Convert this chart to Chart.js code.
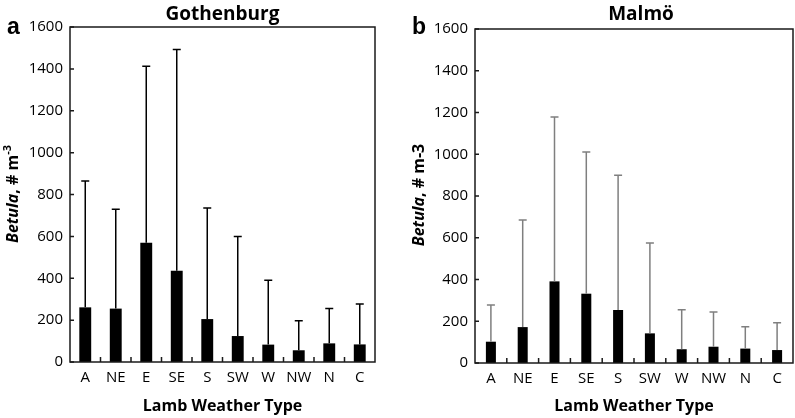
<!DOCTYPE html>
<html>
<head>
<meta charset="utf-8">
<script src="https://cdn.jsdelivr.net/npm/chart.js@4"></script>
<style>
  body { margin: 0; background: #fff; }
  #wrap { position: relative; width: 795px; height: 418px; }
  canvas { position: absolute; top: 0; }
</style>
</head>
<body>
<div id="wrap">
  <canvas id="gbg" width="395" height="418" style="left:0"></canvas>
  <canvas id="mal" width="400" height="418" style="left:395px"></canvas>
</div>
<script>
const categories = ['A', 'NE', 'E', 'SE', 'S', 'SW', 'W', 'NW', 'N', 'C'];
const gothenburgMean = [261, 255, 570, 436, 205, 124, 83, 56, 89, 84];
const gothenburgUpper = [865, 730, 1413, 1493, 735, 600, 390, 197, 255, 277];
const malmoMean = [102, 172, 391, 332, 254, 142, 66, 78, 69, 62];
const malmoUpper = [278, 685, 1178, 1011, 900, 575, 255, 244, 174, 193];
const yTicks = [0, 200, 400, 600, 800, 1000, 1200, 1400, 1600];

const FONT = '"Open Sans", sans-serif';

// frame, inward ticks, error bars and the panel texts
const panelPlugin = {
  id: 'panel',
  afterDatasetsDraw(chart, args, o) {
    const ctx = chart.ctx;
    const a = chart.chartArea;
    const x = chart.scales.x, y = chart.scales.y;

    // error bars (upper only)
    const meta = chart.getDatasetMeta(0);
    ctx.save();
    ctx.strokeStyle = o.errColor;
    ctx.lineWidth = 1.5;
    meta.data.forEach((bar, i) => {
      const top = y.getPixelForValue(o.upper[i]);
      ctx.beginPath();
      ctx.moveTo(bar.x, bar.y);
      ctx.lineTo(bar.x, top);
      ctx.moveTo(bar.x - 4, top);
      ctx.lineTo(bar.x + 4, top);
      ctx.stroke();
    });
    ctx.restore();

    // box and ticks
    ctx.save();
    ctx.strokeStyle = '#1a1a1a';
    ctx.lineWidth = 1.5;
    ctx.strokeRect(a.left, a.top, a.right - a.left, a.bottom - a.top);
    ctx.beginPath();
    yTicks.forEach(v => {
      const py = y.getPixelForValue(v);
      ctx.moveTo(a.left, py);
      ctx.lineTo(a.left + 4, py);
    });
    for (let i = 0; i < categories.length - 1; i++) {
      const px = (x.getPixelForValue(i) + x.getPixelForValue(i + 1)) / 2;
      ctx.moveTo(px, a.bottom);
      ctx.lineTo(px, a.bottom - 5);
    }
    ctx.stroke();
    ctx.restore();

    // texts
    const cx = (a.left + a.right) / 2;
    ctx.save();
    ctx.fillStyle = '#000';
    ctx.textAlign = 'center';
    ctx.textBaseline = 'alphabetic';
    ctx.font = 'bold 19px ' + FONT;
    ctx.fillText(o.title, cx + o.titleShift, 20);
    ctx.font = 'bold 16px ' + FONT;
    ctx.fillText('Lamb Weather Type', cx, 411);
    ctx.textAlign = 'left';
    ctx.font = 'bold 23px "Liberation Sans", Arial, sans-serif';
    ctx.fillText(o.letter, o.letterX, 34);

    // rotated y title: Betula (italic) + rest
    const parts = [
      { t: 'Betula', f: 'italic bold 16px ' + FONT, dy: 0 },
      { t: ', # m', f: 'bold 16px ' + FONT, dy: 0 },
      { t: '-3', f: o.sup ? 'bold 11px ' + FONT : 'bold 16px ' + FONT, dy: o.sup ? -7 : 0 }
    ];
    let w = 0;
    parts.forEach(p => { ctx.font = p.f; p.w = ctx.measureText(p.t).width; w += p.w; });
    ctx.translate(o.yTitleX, o.yTitleY);
    ctx.rotate(-Math.PI / 2);
    let pos = -w / 2;
    parts.forEach(p => {
      ctx.font = p.f;
      ctx.fillText(p.t, pos, p.dy);
      pos += p.w;
    });
    ctx.restore();
  }
};

function makeChart(id, means, cfg) {
  return new Chart(document.getElementById(id), {
    type: 'bar',
    data: {
      labels: categories,
      datasets: [{
        data: means,
        backgroundColor: '#000',
        borderWidth: 0,
        categoryPercentage: 1,
        barPercentage: cfg.barPct
      }]
    },
    options: {
      responsive: false,
      animation: false,
      layout: { padding: { top: cfg.top, right: cfg.right, left: 0, bottom: 0 } },
      plugins: {
        legend: { display: false },
        tooltip: { enabled: false },
        panel: cfg.panel
      },
      scales: {
        x: {
          grid: { display: false, drawTicks: false },
          border: { display: false },
          ticks: { color: '#000', font: { family: FONT, size: 15 }, padding: 7, maxRotation: 0 },
          afterFit: s => { s.height = cfg.xHeight; }
        },
        y: {
          min: 0,
          max: 1600,
          grid: { display: false, drawTicks: false },
          border: { display: false },
          ticks: {
            color: '#000', stepSize: 200, font: { family: FONT, size: 15 }, padding: 7,
            callback: v => String(v)
          },
          afterFit: s => { s.width = cfg.yWidth; }
        }
      }
    },
    plugins: [panelPlugin]
  });
}

makeChart('gbg', gothenburgMean, {
  barPct: 0.39, top: 27, right: 20, xHeight: 56, yWidth: 70,
  panel: { upper: gothenburgUpper, errColor: '#000', title: 'Gothenburg', titleShift: 0,
           letter: 'a', letterX: 7, sup: true, yTitleX: 18, yTitleY: 194 }
});

makeChart('mal', malmoMean, {
  barPct: 0.315, top: 29, right: 2, xHeight: 55, yWidth: 80,
  panel: { upper: malmoUpper, errColor: '#7f7f7f', title: 'Malmö', titleShift: 7,
           letter: 'b', letterX: 17, sup: false, yTitleX: 29, yTitleY: 195 }
});
</script>
</body>
</html>
